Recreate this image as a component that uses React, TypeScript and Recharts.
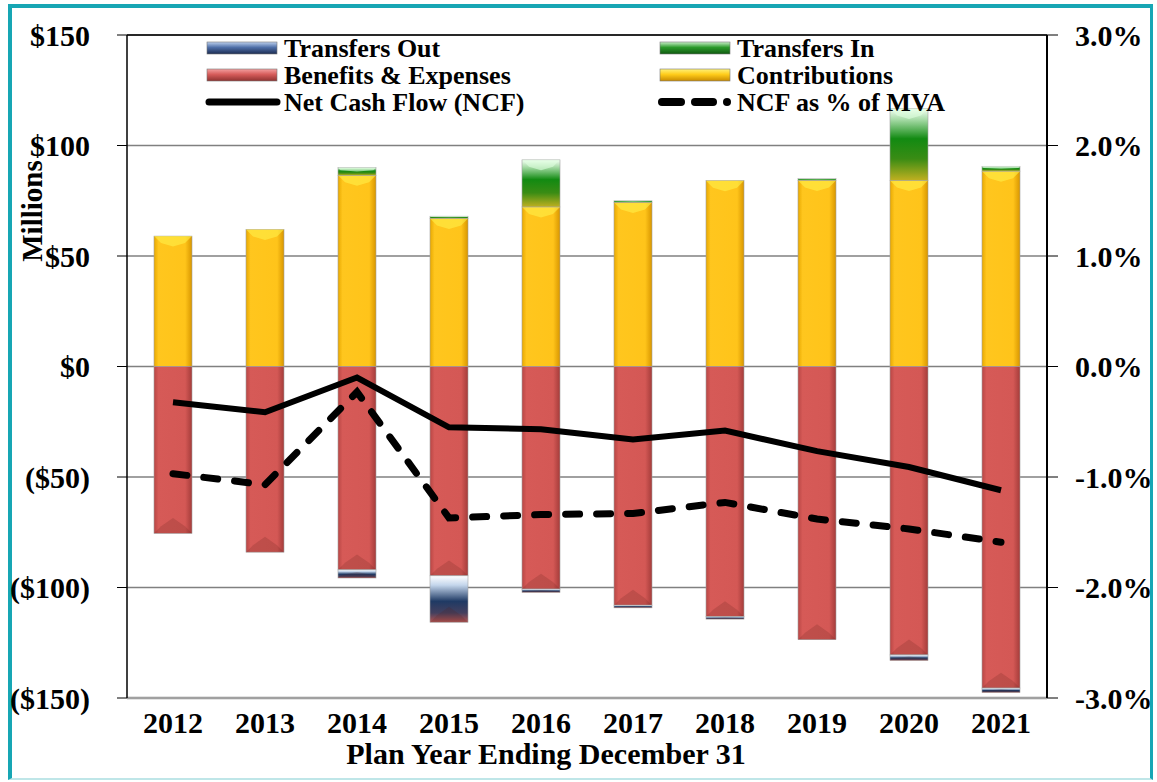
import React from 'react';
import { ComposedChart, Bar, Line, XAxis, YAxis, CartesianGrid, ReferenceLine, Legend } from 'recharts';

const years = ['2012', '2013', '2014', '2015', '2016', '2017', '2018', '2019', '2020', '2021'];
const contributions = [59, 62, 86.5, 67, 72.2, 74.2, 84.1, 84.2, 84.2, 88.4];
const transfersIn = [0, 0, 3.5, 1, 21.3, 0.8, 0, 0.8, 32.5, 2.2];
const benefits = [-75.5, -84, -92, -94.7, -100.7, -108, -113.2, -123.6, -130.5, -145.5];
const transfersOut = [0, 0, -3.7, -21, -1.5, -1.2, -1.1, 0, -2.5, -2];
const netCashFlow = [-16.2, -20.7, -5, -27.5, -28.4, -33, -29, -38.3, -45.5, -56];
const ncfPctMva = [-0.0097, -0.0107, -0.0023, -0.0137, -0.0134, -0.0133, -0.0123, -0.0138, -0.0147, -0.0159];

const dollarTicks = [-150, -100, -50, 0, 50, 100, 150];
const pctTicks = [-0.03, -0.02, -0.01, 0, 0.01, 0.02, 0.03];

const data = years.map((year, i) => ({
  year,
  contributions: contributions[i],
  transfersIn: transfersIn[i],
  benefits: benefits[i],
  transfersOut: transfersOut[i],
  ncf: netCashFlow[i],
  ncfPct: ncfPctMva[i],
}));

const FONT = '"Liberation Serif", "Times New Roman", serif';

const fmtDollar = (v: number) => (v < 0 ? `($${-v})` : `$${v}`);
const fmtPct = (v: number) => (Math.abs(v) < 1e-9 ? '0.0%' : `${(v * 100).toFixed(1)}%`);

// bevelled bar, loosely like the excel look
function BevelBar(props: any) {
  const { x, y, width, height, grad, light, dark, side } = props;
  if (!height || Math.abs(height) < 0.5) return null;
  const top = Math.min(y, y + height);
  const h = Math.abs(height);
  const b = Math.min(7, h / 3);
  const bottom = top + h;
  return (
    <g>
      <rect x={x} y={top} width={width} height={h} fill={`url(#${grad})`} stroke="#a0a0a0" strokeWidth={0.6} />
      {side === 'pos' ? (
        <polygon
          points={`${x},${top} ${x + width},${top} ${x + width - b},${top + b} ${x + width / 2},${top + b * 1.5} ${x + b},${top + b}`}
          fill={light}
          opacity={0.6}
        />
      ) : (
        <polygon
          points={`${x},${bottom} ${x + width},${bottom} ${x + width - b},${bottom - b} ${x + width / 2},${bottom - b * 2.2} ${x + b},${bottom - b}`}
          fill={dark}
          opacity={0.18}
        />
      )}
    </g>
  );
}

function LegendBox() {
  const swatch = (sx: number, cy: number, grad: string) => (
    <rect x={sx} y={cy - 6} width={70} height={12} fill={`url(#${grad})`} stroke="#777" strokeWidth={0.6} />
  );
  const label = (tx: number, cy: number, t: string) => (
    <text x={tx} y={cy + 9} fontFamily={FONT} fontWeight={700} fontSize={26} fill="#000">
      {t}
    </text>
  );
  return (
    <svg width={780} height={82}>
      <defs>
        <linearGradient id="lgOut" x1="0" y1="0" x2="0" y2="1">
          <stop offset="0%" stopColor="#bcd0ee" />
          <stop offset="45%" stopColor="#4f6fa8" />
          <stop offset="100%" stopColor="#1c2c52" />
        </linearGradient>
        <linearGradient id="lgIn" x1="0" y1="0" x2="0" y2="1">
          <stop offset="0%" stopColor="#c8f0c8" />
          <stop offset="45%" stopColor="#2c9a2c" />
          <stop offset="100%" stopColor="#0f5a0f" />
        </linearGradient>
        <linearGradient id="lgBen" x1="0" y1="0" x2="0" y2="1">
          <stop offset="0%" stopColor="#f4a0a0" />
          <stop offset="45%" stopColor="#d65c5a" />
          <stop offset="100%" stopColor="#8e3230" />
        </linearGradient>
        <linearGradient id="lgCon" x1="0" y1="0" x2="0" y2="1">
          <stop offset="0%" stopColor="#fff27a" />
          <stop offset="45%" stopColor="#ffcc1a" />
          <stop offset="100%" stopColor="#c88a00" />
        </linearGradient>
      </defs>
      {swatch(12, 14, 'lgOut')}
      {label(89, 14, 'Transfers Out')}
      {swatch(12, 41, 'lgBen')}
      {label(89, 41, 'Benefits & Expenses')}
      <line x1={14} y1={68} x2={82} y2={68} stroke="#000" strokeWidth={7} strokeLinecap="round" />
      {label(89, 68, 'Net Cash Flow (NCF)')}

      {swatch(465, 14, 'lgIn')}
      {label(542, 14, 'Transfers In')}
      {swatch(465, 41, 'lgCon')}
      {label(542, 41, 'Contributions')}
      <line x1={467} y1={68} x2={486} y2={68} stroke="#000" strokeWidth={8} strokeLinecap="round" />
      <line x1={500} y1={68} x2={518} y2={68} stroke="#000" strokeWidth={8} strokeLinecap="round" />
      <circle cx={532} cy={68} r={4} fill="#000" />
      {label(542, 68, 'NCF as % of MVA')}
    </svg>
  );
}

export default function App() {
  const tickStyle = { fill: '#000', fontSize: 30, fontWeight: 700, fontFamily: FONT };
  return (
    <div style={{ position: 'absolute', left: 0, top: 0, width: 1157, height: 782, background: '#fff' }}>
      <div
        style={{
          position: 'absolute',
          left: 8,
          top: 4,
          width: 1145,
          height: 776,
          boxSizing: 'border-box',
          borderTop: '4px solid #17a6b4',
          borderLeft: '4px solid #17a6b4',
          borderRight: '3px solid #17a6b4',
          borderBottom: '2px solid #bfe6e8',
        }}
      />
      <div style={{ position: 'absolute', left: 0, top: 0 }}>
        <ComposedChart
          width={1157}
          height={782}
          data={data}
          stackOffset="sign"
          barSize={38}
          margin={{ top: 35, right: 0, bottom: 0, left: 0 }}
        >
          <defs>
            <linearGradient id="gCon" x1="0" y1="0" x2="1" y2="0">
              <stop offset="0%" stopColor="#e8a800" />
              <stop offset="12%" stopColor="#ffc61e" />
              <stop offset="82%" stopColor="#ffc41a" />
              <stop offset="100%" stopColor="#d89600" />
            </linearGradient>
            <linearGradient id="gBen" x1="0" y1="0" x2="1" y2="0">
              <stop offset="0%" stopColor="#b84644" />
              <stop offset="12%" stopColor="#d65a57" />
              <stop offset="82%" stopColor="#d45855" />
              <stop offset="100%" stopColor="#a43c3a" />
            </linearGradient>
            <linearGradient id="gIn" x1="0" y1="0" x2="0" y2="1">
              <stop offset="0%" stopColor="#f6fff6" />
              <stop offset="15%" stopColor="#a8dca8" />
              <stop offset="42%" stopColor="#128a12" />
              <stop offset="70%" stopColor="#3a8c14" />
              <stop offset="100%" stopColor="#c0b020" />
            </linearGradient>
            <linearGradient id="gOut" x1="0" y1="0" x2="0" y2="1">
              <stop offset="0%" stopColor="#ffffff" />
              <stop offset="20%" stopColor="#c4d6ec" />
              <stop offset="55%" stopColor="#1f3a64" />
              <stop offset="80%" stopColor="#44405e" />
              <stop offset="100%" stopColor="#b45452" />
            </linearGradient>
          </defs>
          <CartesianGrid yAxisId="left" vertical={false} stroke="#808080" strokeWidth={1.5} />
          <XAxis
            dataKey="year"
            height={84}
            tickLine={false}
            tickSize={0}
            tickMargin={14}
            axisLine={{ stroke: '#a0a0a0', strokeWidth: 2 }}
            tick={tickStyle}
            interval={0}
            label={{
              content: () => (
                <text x={546} y={764} textAnchor="middle" fontFamily={FONT} fontWeight={700} fontSize={30} fill="#000">
                  Plan Year Ending December 31
                </text>
              ),
            }}
          />
          <YAxis
            yAxisId="left"
            width={127}
            domain={[-150, 150]}
            ticks={dollarTicks}
            interval={0}
            allowDataOverflow
            tickFormatter={fmtDollar}
            tickSize={10}
            tickMargin={27}
            tickLine={{ stroke: '#000' }}
            axisLine={{ stroke: '#000', strokeWidth: 1.5 }}
            tick={tickStyle}
            label={{
              content: () => (
                <text
                  x={42}
                  y={211}
                  transform="rotate(-90 42 211)"
                  textAnchor="middle"
                  fontFamily={FONT}
                  fontWeight={700}
                  fontSize={29}
                  fill="#000"
                >
                  Millions
                </text>
              ),
            }}
          />
          <YAxis
            yAxisId="right"
            orientation="right"
            width={110}
            domain={[-0.03, 0.03]}
            ticks={pctTicks}
            interval={0}
            allowDataOverflow
            tickFormatter={fmtPct}
            tickSize={11}
            tickMargin={17}
            tickLine={{ stroke: '#000' }}
            axisLine={{ stroke: '#000', strokeWidth: 2 }}
            tick={tickStyle}
          />
          <ReferenceLine yAxisId="left" y={150} stroke="#000" strokeWidth={1.5} />
          <ReferenceLine yAxisId="left" y={-150} stroke="#c8c8c8" strokeWidth={3} />
          <Legend
            layout="horizontal"
            verticalAlign="middle"
            align="center"
            wrapperStyle={{ top: 34, left: 195, width: 780, height: 82 }}
            content={() => <LegendBox />}
          />
          <Bar
            yAxisId="left"
            dataKey="contributions"
            stackId="a"
            isAnimationActive={false}
            shape={(p: any) => <BevelBar {...p} grad="gCon" light="#fff04a" dark="#a06a00" side="pos" />}
          />
          <Bar
            yAxisId="left"
            dataKey="transfersIn"
            stackId="a"
            isAnimationActive={false}
            shape={(p: any) => <BevelBar {...p} grad="gIn" light="#e0ffe0" dark="#0a4a0a" side="pos" />}
          />
          <Bar
            yAxisId="left"
            dataKey="benefits"
            stackId="a"
            isAnimationActive={false}
            shape={(p: any) => <BevelBar {...p} grad="gBen" light="#f08c8a" dark="#5a1a18" side="neg" />}
          />
          <Bar
            yAxisId="left"
            dataKey="transfersOut"
            stackId="a"
            isAnimationActive={false}
            shape={(p: any) => <BevelBar {...p} grad="gOut" light="#ffffff" dark="#5a1a18" side="neg" />}
          />
          <Line
            yAxisId="left"
            type="linear"
            dataKey="ncf"
            stroke="#000"
            strokeWidth={6}
            dot={false}
            activeDot={false}
            isAnimationActive={false}
          />
          <Line
            yAxisId="right"
            type="linear"
            dataKey="ncfPct"
            stroke="#000"
            strokeWidth={7}
            strokeDasharray="14 17"
            strokeLinecap="round"
            dot={false}
            activeDot={false}
            isAnimationActive={false}
          />
        </ComposedChart>
      </div>
    </div>
  );
}
